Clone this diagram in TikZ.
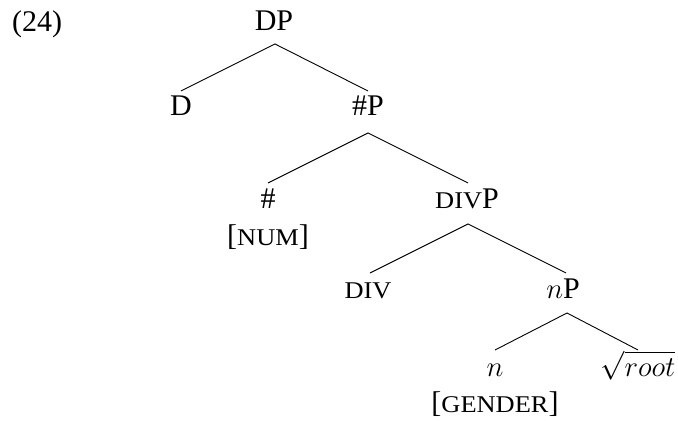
\documentclass[tikz,border=0pt]{standalone}
\usepackage{fontspec}
\setmainfont{Liberation Serif}
\usepackage{graphicx}
\newcommand\smc[1]{\scalebox{1.1}[1]{\fontsize{12}{14}\selectfont #1}}
\begin{document}
\begin{tikzpicture}[x=0.5pt,y=-0.5pt,
  lab/.style={anchor=base,inner sep=0pt,font=\fontsize{15}{18}\selectfont},
  branch/.style={line width=0.45pt}]
\useasboundingbox (0,0) rectangle (678,421);
\node[lab] (ex) at (37,32) {(24)};
\node[lab] (DP) at (274,31) {DP};
\node[lab] (D) at (181,116) {D};
\node[lab] (NumP) at (368,116) {\#P};
\node[lab] (Num) at (268,209) {\#};
\node[lab] (NumF) at (268,246) {[\smc{NUM}]};
\node[lab] (DivP) at (467,209) {\smc{DIV}P};
\node[lab] (Div) at (368,299) {\smc{DIV}};
\node[lab] (nP) at (563,299) {$n$P};
\node[lab] (n) at (495,376) {$n$};
\node[lab] (root) at (638,376) {$\sqrt{root}$};
\node[lab] (GenF) at (495,412) {[\smc{GENDER}]};
\coordinate (DPb) at (275,44);
\coordinate (Dt) at (181,91);
\coordinate (NumPt) at (368,91);
\coordinate (NumPb) at (368,133);
\coordinate (Numt) at (268,183);
\coordinate (DivPt) at (468,183);
\coordinate (DivPb) at (468,224);
\coordinate (Divt) at (370,273);
\coordinate (nPt) at (566,273);
\coordinate (nPb) at (567,313);
\coordinate (nt) at (495,350);
\coordinate (roott) at (638,350);
\draw[branch] (Dt) -- (DPb) -- (NumPt);
\draw[branch] (Numt) -- (NumPb) -- (DivPt);
\draw[branch] (Divt) -- (DivPb) -- (nPt);
\draw[branch] (nt) -- (nPb) -- (roott);
\end{tikzpicture}
\end{document}
